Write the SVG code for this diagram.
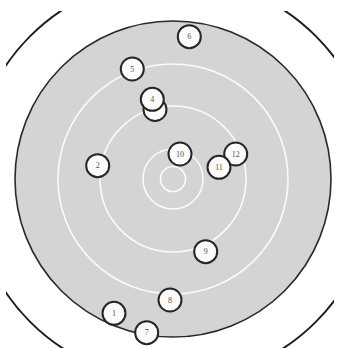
<svg xmlns="http://www.w3.org/2000/svg" width="338" height="349" viewBox="0 0 338 349">
<style>
.ring{fill:none;stroke:#fafafa;stroke-width:1.6}
.hole circle{fill:#fbfbfb;stroke:#262626;stroke-width:2}
.hole text{font-family:"Liberation Serif",serif;font-size:8px;fill:#555;text-anchor:middle;dominant-baseline:central}
</style>
<defs>
<clipPath id="frame"><rect x="6" y="11" width="328" height="337"/></clipPath>
</defs>
<rect width="338" height="349" fill="#fff"/>
<g id="target">
<circle cx="173" cy="179" r="202" fill="none" stroke="#1e1e1e" stroke-width="2" clip-path="url(#frame)"/>
<circle cx="173" cy="179" r="158" fill="#d4d4d4" stroke="#2a2a2a" stroke-width="1.6"/>
<circle class="ring" cx="173" cy="179" r="12.5"/>
<circle class="ring" cx="173" cy="179" r="30"/>
<circle class="ring" cx="173" cy="179" r="73"/>
<circle class="ring" cx="173" cy="179" r="115"/>
</g>
<g id="hole3" class="hole"><circle cx="155" cy="109.5" r="11.5"/></g>
<g id="hole4" class="hole"><circle cx="152.3" cy="99.3" r="11.5"/><text x="152.3" y="99.3">4</text></g>
<g id="hole6" class="hole"><circle cx="189.3" cy="36.7" r="11.5"/><text x="189.3" y="36.7">6</text></g>
<g id="hole5" class="hole"><circle cx="132.3" cy="69" r="11.5"/><text x="132.3" y="69">5</text></g>
<g id="hole2" class="hole"><circle cx="97.7" cy="165.7" r="11.5"/><text x="97.7" y="165.7">2</text></g>
<g id="hole10" class="hole"><circle cx="180" cy="154" r="11.5"/><text x="180" y="154">10</text></g>
<g id="hole12" class="hole"><circle cx="235.7" cy="154" r="11.5"/><text x="235.7" y="154">12</text></g>
<g id="hole11" class="hole"><circle cx="219" cy="167.3" r="11.5"/><text x="219" y="167.3">11</text></g>
<g id="hole9" class="hole"><circle cx="205.7" cy="251.7" r="11.5"/><text x="205.7" y="251.7">9</text></g>
<g id="hole8" class="hole"><circle cx="170" cy="300" r="11.5"/><text x="170" y="300">8</text></g>
<g id="hole1" class="hole"><circle cx="114" cy="313.3" r="11.5"/><text x="114" y="313.3">1</text></g>
<g id="hole7" class="hole"><circle cx="146.7" cy="332.7" r="11.5"/><text x="146.7" y="332.7">7</text></g>
<g id="connectors"/>
</svg>
